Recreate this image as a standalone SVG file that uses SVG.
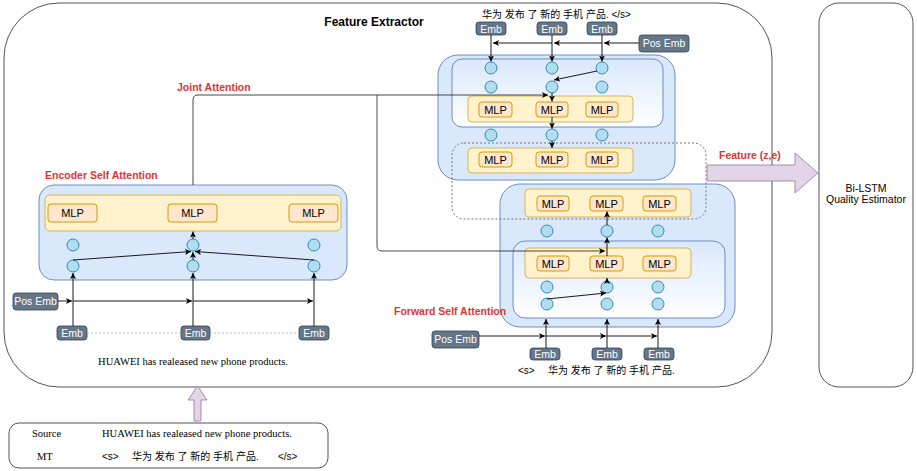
<svg xmlns="http://www.w3.org/2000/svg" width="917" height="471" viewBox="0 0 917 471">
  <defs>
    <linearGradient id="innerFill" x1="0" y1="0" x2="0" y2="1">
      <stop offset="0" stop-color="#dae8fc"/>
      <stop offset="1" stop-color="#ffffff"/>
    </linearGradient>
    <marker id="arr" markerWidth="7" markerHeight="6" refX="6" refY="3" orient="auto" markerUnits="userSpaceOnUse">
      <path d="M0,0 L6,3 L0,6 L1.5,3 z" fill="#000"/>
    </marker>
    <style>
      .frame{fill:#fff;stroke:#555;stroke-width:1}
      .blk{fill:#dae8fc;stroke:#6c8ebf;stroke-width:1}
      .inner{fill:url(#innerFill);stroke:#6c8ebf;stroke-width:1}
      .band{fill:#fff2cc;stroke:#d6b656;stroke-width:1}
      .mlp{fill:#ffe6cc;stroke:#d79b00;stroke-width:1}
      .cir{fill:#b1ddf0;stroke:#10739e;stroke-width:0.8}
      .emb{fill:#647687;stroke:#314354;stroke-width:0.8}
      .t{font-family:"Liberation Sans",Arial,sans-serif;font-size:11px;fill:#000}
      .tm{font-family:"Liberation Sans",Arial,sans-serif;font-size:11px;fill:#000;text-anchor:middle}
      .ts{font-family:"Liberation Sans",Arial,sans-serif;font-size:10.5px;fill:#000;text-anchor:middle}
      .te{font-family:"Liberation Sans",Arial,sans-serif;font-size:10.5px;fill:#fff;text-anchor:middle}
      .red{font-family:"Liberation Sans",Arial,sans-serif;font-size:10.5px;font-weight:bold;fill:#e8312f}
      .serif{font-family:"Liberation Serif","Times New Roman",serif;font-size:10.5px;fill:#000}
      .cjk{font-family:"Liberation Sans","Noto Sans CJK SC",sans-serif;font-size:10px;fill:#000}
      .ln{fill:none;stroke:#000;stroke-width:0.9}
      .la{fill:none;stroke:#000;stroke-width:0.9;marker-end:url(#arr)}
      .dot{fill:none;stroke:#777;stroke-width:1;stroke-dasharray:2 2}
      .fat{fill:#e1d5e7;stroke:#9673a6;stroke-width:0.8}
    </style>
  </defs>

  <!-- outer frames -->
  <g id="feature-extractor">
    <rect class="frame" x="4" y="3" width="768" height="384" rx="55"/>
    <text x="374" y="26" text-anchor="middle" style="font-family:'Liberation Sans',Arial,sans-serif;font-size:12px;font-weight:bold">Feature Extractor</text>
  </g>
  <g id="bilstm">
    <rect class="frame" x="819" y="3" width="94" height="384" rx="20"/>
    <text class="ts" x="866" y="192">Bi-LSTM</text>
    <text class="ts" x="866" y="203">Quality Estimator</text>
  </g>

  <!-- input box -->
  <g id="input">
    <rect class="frame" x="9" y="423" width="319" height="45" rx="10"/>
    <text class="serif" x="32" y="437">Source</text>
    <text class="serif" x="102" y="437">HUAWEI has realeased new phone products.</text>
    <text class="serif" x="37" y="460">MT</text>
    <text class="cjk" x="102" y="460">&lt;s&gt;</text>
    <text class="cjk" x="132" y="460">华为 发布 了 新的 手机 产品.</text>
    <text class="cjk" x="278" y="460">&lt;/s&gt;</text>
  </g>
  <g id="input-arrow">
    <polygon class="fat" points="194,421 201,421 201,400 207,400 197.5,386 188,400 194,400"/>
  </g>

  <!-- encoder self attention -->
  <g id="encoder">
    <rect class="blk" x="39" y="185" width="308" height="95" rx="15"/>
    <rect class="band" x="45" y="195" width="296" height="36" rx="5"/>
    <rect class="mlp" x="48" y="204" width="49" height="18" rx="3"/>
    <rect class="mlp" x="168" y="204" width="49" height="18" rx="3"/>
    <rect class="mlp" x="289" y="204" width="49" height="18" rx="3"/>
    <text class="tm" x="72.5" y="217">MLP</text>
    <text class="tm" x="192.5" y="217">MLP</text>
    <text class="tm" x="313.5" y="217">MLP</text>
    <circle class="cir" cx="73" cy="245" r="6"/>
    <circle class="cir" cx="193" cy="245" r="6"/>
    <circle class="cir" cx="314" cy="245" r="6"/>
    <circle class="cir" cx="73" cy="266" r="6"/>
    <circle class="cir" cx="193" cy="266" r="6"/>
    <circle class="cir" cx="314" cy="266" r="6"/>
    <text class="red" x="45" y="179">Encoder Self Attention</text>
  </g>
  <g id="encoder-inputs">
    <rect class="emb" x="13" y="293" width="45" height="17" rx="3"/>
    <text class="te" x="35.5" y="305">Pos Emb</text>
    <rect class="emb" x="57" y="326" width="30" height="14" rx="3"/>
    <rect class="emb" x="181" y="326" width="29" height="14" rx="3"/>
    <rect class="emb" x="299" y="326" width="30" height="14" rx="3"/>
    <text class="te" x="72" y="337">Emb</text>
    <text class="te" x="195.5" y="337">Emb</text>
    <text class="te" x="314" y="337">Emb</text>
    <text class="serif" x="193" y="365" text-anchor="middle">HUAWEI has realeased new phone products.</text>
  </g>

  <!-- target block: joint attention -->
  <g id="joint-block">
    <rect class="blk" x="438" y="55" width="237" height="125" rx="20"/>
    <rect class="inner" x="452" y="59" width="211" height="68" rx="10"/>
    <rect class="band" x="468" y="96" width="165" height="26" rx="4"/>
    <rect class="mlp" x="479" y="102" width="33" height="15" rx="3"/>
    <rect class="mlp" x="536" y="102" width="32" height="15" rx="3"/>
    <rect class="mlp" x="586" y="102" width="32" height="15" rx="3"/>
    <text class="tm" x="495.5" y="113.5">MLP</text>
    <text class="tm" x="552" y="113.5">MLP</text>
    <text class="tm" x="602" y="113.5">MLP</text>
    <circle class="cir" cx="491" cy="68" r="6"/>
    <circle class="cir" cx="552" cy="68" r="6"/>
    <circle class="cir" cx="602" cy="68" r="6"/>
    <circle class="cir" cx="491" cy="87" r="6"/>
    <circle class="cir" cx="552" cy="87" r="6"/>
    <circle class="cir" cx="602" cy="87" r="6"/>
    <circle class="cir" cx="491" cy="135" r="6"/>
    <circle class="cir" cx="552" cy="135" r="6"/>
    <circle class="cir" cx="602" cy="135" r="6"/>
    <rect class="band" x="468" y="148" width="165" height="25" rx="4"/>
    <rect class="mlp" x="479" y="152" width="33" height="15" rx="3"/>
    <rect class="mlp" x="536" y="152" width="32" height="15" rx="3"/>
    <rect class="mlp" x="586" y="152" width="32" height="15" rx="3"/>
    <text class="tm" x="495.5" y="163.5">MLP</text>
    <text class="tm" x="552" y="163.5">MLP</text>
    <text class="tm" x="602" y="163.5">MLP</text>
  </g>
  <g id="joint-inputs">
    <text class="cjk" x="482" y="18">华为 发布 了 新的 手机 产品. &lt;/s&gt;</text>
    <rect class="emb" x="476" y="22" width="30" height="13" rx="3"/>
    <rect class="emb" x="537" y="22" width="30" height="13" rx="3"/>
    <rect class="emb" x="587" y="22" width="30" height="13" rx="3"/>
    <text class="te" x="491" y="32.5">Emb</text>
    <text class="te" x="552" y="32.5">Emb</text>
    <text class="te" x="602" y="32.5">Emb</text>
    <rect class="emb" x="639" y="35" width="50" height="17" rx="3"/>
    <text class="te" x="664" y="47">Pos Emb</text>
  </g>

  <!-- forward self attention -->
  <g id="forward-block">
    <rect class="blk" x="500" y="184" width="235" height="143" rx="20"/>
    <rect class="band" x="525" y="189" width="166" height="28" rx="4"/>
    <rect class="mlp" x="537" y="196" width="32" height="15" rx="3"/>
    <rect class="mlp" x="590" y="196" width="33" height="15" rx="3"/>
    <rect class="mlp" x="643" y="196" width="33" height="15" rx="3"/>
    <text class="tm" x="553" y="207.5">MLP</text>
    <text class="tm" x="606.5" y="207.5">MLP</text>
    <text class="tm" x="659.5" y="207.5">MLP</text>
    <circle class="cir" cx="547" cy="231" r="6"/>
    <circle class="cir" cx="607" cy="231" r="6"/>
    <circle class="cir" cx="658" cy="231" r="6"/>
    <rect class="inner" x="513" y="241" width="212" height="77" rx="12"/>
    <rect class="band" x="525" y="248" width="166" height="30" rx="4"/>
    <rect class="mlp" x="537" y="256" width="32" height="15" rx="3"/>
    <rect class="mlp" x="590" y="256" width="33" height="15" rx="3"/>
    <rect class="mlp" x="643" y="256" width="33" height="15" rx="3"/>
    <text class="tm" x="553" y="267.5">MLP</text>
    <text class="tm" x="606.5" y="267.5">MLP</text>
    <text class="tm" x="659.5" y="267.5">MLP</text>
    <circle class="cir" cx="547" cy="287" r="6"/>
    <circle class="cir" cx="607" cy="287" r="6"/>
    <circle class="cir" cx="658" cy="287" r="6"/>
    <circle class="cir" cx="547" cy="304" r="6"/>
    <circle class="cir" cx="607" cy="304" r="6"/>
    <circle class="cir" cx="658" cy="304" r="6"/>
    <text class="red" x="394" y="315">Forward Self Attention</text>
  </g>
  <g id="forward-inputs">
    <rect class="emb" x="432" y="331" width="47" height="17" rx="3"/>
    <text class="te" x="455.5" y="343">Pos Emb</text>
    <rect class="emb" x="530" y="348" width="30" height="12" rx="3"/>
    <rect class="emb" x="592" y="348" width="30" height="12" rx="3"/>
    <rect class="emb" x="644" y="348" width="30" height="12" rx="3"/>
    <text class="te" x="545" y="357.5">Emb</text>
    <text class="te" x="607" y="357.5">Emb</text>
    <text class="te" x="659" y="357.5">Emb</text>
    <text class="cjk" x="518" y="374">&lt;s&gt;</text>
    <text class="cjk" x="548" y="374">华为 发布 了 新的 手机 产品.</text>
  </g>

  <!-- shared feature region -->
  <g id="feature-region">
    <rect class="dot" x="452" y="143" width="254" height="76" rx="12"/>
  </g>
  <g id="feature-arrow">
    <polygon class="fat" points="707,165 795,165 795,153 818,173 795,193 795,181 707,181"/>
    <text class="red" x="719" y="159">Feature (z,e)</text>
  </g>

  <!-- connectors -->
  <g id="connectors">
    <!-- encoder -->
    <line class="la" x1="58" y1="301" x2="72" y2="301"/>
    <line class="la" x1="73" y1="301" x2="192" y2="301"/>
    <line class="la" x1="193" y1="301" x2="313" y2="301"/>
    <line class="la" x1="73" y1="326" x2="73" y2="273"/>
    <line class="la" x1="193" y1="326" x2="193" y2="273"/>
    <line class="la" x1="314" y1="326" x2="314" y2="273"/>
    <line class="dot" x1="87" y1="333" x2="181" y2="333" style="stroke:#aaa;stroke-width:0.8"/>
    <line class="dot" x1="210" y1="333" x2="299" y2="333" style="stroke:#aaa;stroke-width:0.8"/>
    <line class="la" x1="73" y1="260" x2="191" y2="251.5"/>
    <line class="la" x1="314" y1="260" x2="195" y2="251.5"/>
    <line class="la" x1="193" y1="260" x2="193" y2="252"/>
    <line class="la" x1="193" y1="239" x2="193" y2="231.5"/>

    <!-- joint attention routing -->
    <text class="red" x="177" y="91">Joint Attention</text>
    <path class="la" d="M193,185 V100 Q193,95 198,95 H548" style="stroke:#333"/>
    <path class="la" d="M377,95 V246 Q377,251 382,251 H605" style="stroke:#333"/>

    <!-- joint block inputs -->
    <line class="la" x1="639" y1="43" x2="604" y2="43"/>
    <line class="la" x1="602" y1="43" x2="554" y2="43"/>
    <line class="la" x1="552" y1="43" x2="493" y2="43"/>
    <line class="la" x1="491" y1="35" x2="491" y2="61.5"/>
    <line class="la" x1="552" y1="35" x2="552" y2="61.5"/>
    <line class="la" x1="602" y1="35" x2="602" y2="61.5"/>
    <line class="la" x1="597" y1="71" x2="554" y2="80"/>
    <line class="la" x1="552" y1="93" x2="552" y2="101.5"/>
    <line class="la" x1="552" y1="117" x2="552" y2="128.5"/>
    <line class="la" x1="552" y1="141" x2="552" y2="148"/>

    <!-- forward block inputs -->
    <line class="la" x1="479" y1="336" x2="545" y2="336"/>
    <line class="la" x1="546" y1="336" x2="606" y2="336"/>
    <line class="la" x1="607" y1="336" x2="657" y2="336"/>
    <line class="la" x1="546" y1="348" x2="546" y2="319"/>
    <line class="la" x1="607" y1="348" x2="607" y2="319"/>
    <line class="la" x1="658" y1="348" x2="658" y2="319"/>
    <line class="la" x1="547" y1="299" x2="606" y2="293"/>
    <line class="la" x1="607" y1="281" x2="607" y2="278"/>
    <line class="la" x1="607" y1="256" x2="607" y2="237.5"/>
    <line class="la" x1="607" y1="225" x2="607" y2="211.5"/>
  </g>
</svg>
